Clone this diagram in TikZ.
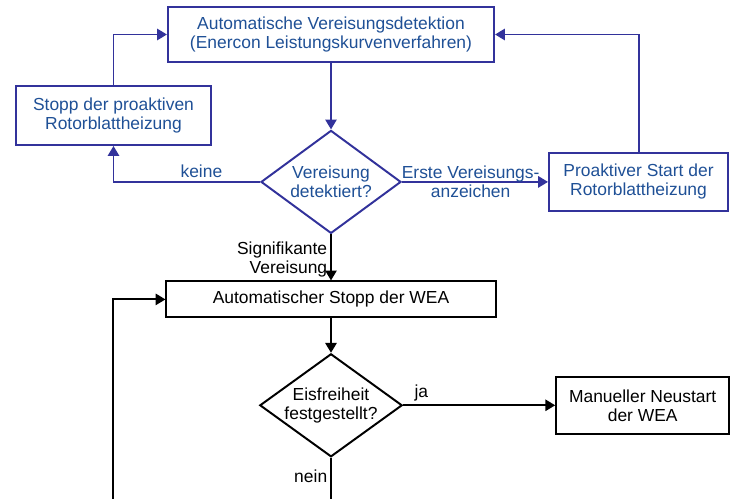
\documentclass[tikz,border=0pt]{standalone}
\usepackage{fontspec}
\setmainfont{Liberation Sans}
\usetikzlibrary{positioning, arrows.meta, shapes.geometric}
\definecolor{flowblue}{RGB}{50,50,155}
\definecolor{textblue}{RGB}{31,80,150}
\tikzset{
every node/.style = {font = \fontsize{12.4}{13.5}\selectfont},
process/.style = {rectangle, draw, line width = 1.4pt, inner sep = 2pt, align = center},
decision/.style = {diamond, aspect = 1.4, draw, line width = 1.4pt, inner sep = 0pt, align = center},
heating/.style = {draw = flowblue, text = textblue},
flow/.style = {-{Triangle[length = 7pt, width = 8pt]}, line width = 1.4pt},
answer/.style = {inner sep = 2pt, align = center},
bluelabel/.style = {answer, text = textblue}
}

\begin{document}
\begin{tikzpicture}[x = 0.025cm, y = -0.025cm]
\useasboundingbox (0,0) rectangle (730,499);
\clip (0,0) rectangle (730,499);

%% Ice detection and rotor blade heating
\node [process, heating, minimum width = 8.15cm, minimum height = 1.375cm] (detect) at (331,34.5)
   {Automatische Vereisungsdetektion\\(Enercon Leistungskurvenverfahren)};
\node [decision, heating, minimum width = 3.5cm, minimum height = 2.575cm] (icecheck)
   [below = 1.66cm of detect] {Vereisung\\detektiert?};
\node [process, heating, minimum width = 4.875cm, minimum height = 1.475cm] (stopheat) at (113.5,115.5)
   {Stopp der proaktiven\\Rotorblattheizung};
\node [process, heating, minimum width = 4.475cm, minimum height = 1.45cm] (startheat)
   [right = 3.65cm of icecheck] {Proaktiver Start der\\Rotorblattheizung};

\path [flow, flowblue] (detect) edge (icecheck);
\draw [flow, flowblue] (icecheck) -| node [bluelabel, above, pos = 0.2] {keine} (stopheat);
\path [flow, flowblue] (icecheck) edge node [bluelabel, pos = 0.47] {Erste Vereisungs-\\anzeichen} (startheat);
\draw [flow, flowblue] (stopheat) |- (detect);
\draw [flow, flowblue] (startheat) |- (detect);

%% Stop of the turbine
\node [process, minimum width = 8.225cm, minimum height = 0.9cm] (autostop)
   [below = 1.15cm of icecheck] {Automatischer Stopp der WEA};
\node [decision, minimum width = 3.475cm, minimum height = 2.575cm] (icefree)
   [below = 0.86cm of autostop] {Eisfreiheit\\festgestellt?};
\node [process, minimum width = 4.325cm, minimum height = 1.425cm] (restart)
   [right = 3.8cm of icefree] {Manueller Neustart\\der WEA};

\path [flow] (icecheck) edge node [answer, left, align = right, pos = 0.55] {Signifikante\\Vereisung} (autostop);
\path [flow] (autostop) edge (icefree);
\path [flow] (icefree) edge node [answer, above right, pos = 0.05] {ja} (restart);

%% Loop back
\coordinate (neinout) at (331,530);
\coordinate (loopin) at (113,530);
\draw [line width = 1.4pt] (icefree) -- node [answer, left, pos = 0.25] {nein} (neinout);
\draw [flow] (loopin) |- (autostop);

\end{tikzpicture}
\end{document}
